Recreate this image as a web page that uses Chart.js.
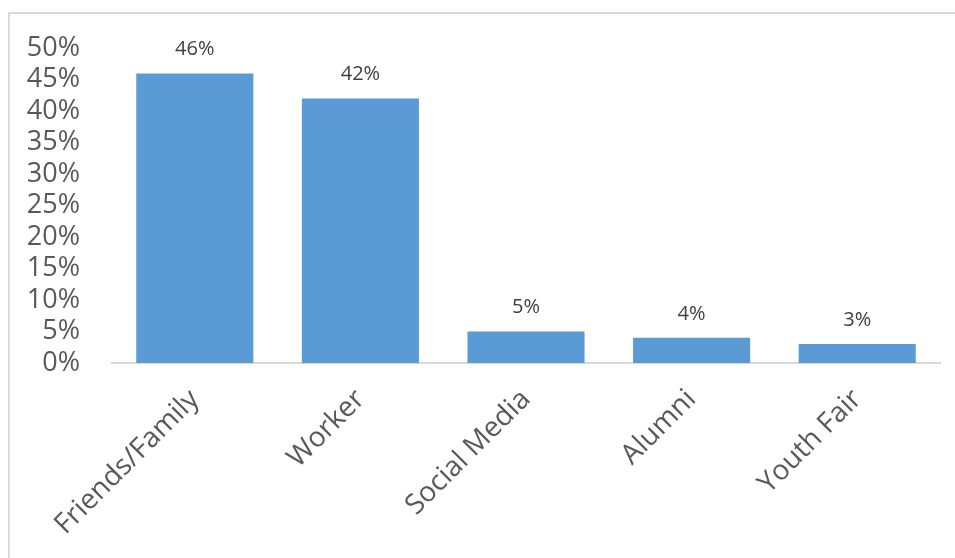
<!DOCTYPE html>
<html>
<head>
<meta charset="utf-8">
<script src="https://cdn.jsdelivr.net/npm/chart.js@4/dist/chart.umd.min.js"></script>
<style>
  html, body { margin: 0; padding: 0; background: #fff; overflow: hidden; }
  #wrap { position: relative; width: 955px; height: 558px; }
  #frame {
    position: absolute; left: 8px; top: 12px; width: 2000px; height: 2000px;
    border-left: 2px solid #d9d9d9; border-top: 2px solid #d9d9d9;
  }
  canvas { position: absolute; left: 0; top: 0; }
</style>
</head>
<body>
<div id="wrap">
  <div id="frame"></div>
  <canvas id="chart" width="955" height="558"></canvas>
</div>
<script>
  // Where respondents heard about the program (share of responses, %)
  const sources = ['Friends/Family', 'Worker', 'Social Media', 'Alumni', 'Youth Fair'];
  const shares = [46, 42, 5, 4, 3];
  const yTicks = [0, 5, 10, 15, 20, 25, 30, 35, 40, 45, 50];

  const FONT = '"Open Sans", "Liberation Sans", sans-serif';
  const TEXT = '#595959';

  // Value labels above each bar
  const barLabels = {
    id: 'barLabels',
    afterDatasetsDraw(chart) {
      const ctx = chart.ctx;
      const meta = chart.getDatasetMeta(0);
      ctx.save();
      ctx.font = '20px ' + FONT;
      ctx.fillStyle = '#404040';
      ctx.textAlign = 'center';
      ctx.textBaseline = 'bottom';
      meta.data.forEach((bar, i) => {
        ctx.fillText(shares[i] + '%', bar.x, bar.y - 14);
      });
      ctx.restore();
    }
  };

  new Chart(document.getElementById('chart').getContext('2d'), {
    type: 'bar',
    data: {
      labels: sources,
      datasets: [{
        data: shares,
        backgroundColor: '#5b9bd5',
        borderWidth: 0,
        categoryPercentage: 1,
        barPercentage: 0.707,
      }],
    },
    options: {
      responsive: false,
      animation: false,
      layout: { padding: { top: 46, right: 15, left: 0, bottom: 0 } },
      plugins: { legend: { display: false }, tooltip: { enabled: false } },
      scales: {
        y: {
          min: 0,
          max: 50,
          afterBuildTicks: scale => { scale.ticks = yTicks.map(v => ({ value: v })); },
          afterFit: scale => { scale.width = 112; },
          grid: { display: false, drawTicks: false },
          border: { display: false },
          ticks: {
            autoSkip: false,
            padding: 32,
            color: TEXT,
            font: { family: FONT, size: 27 },
            callback: v => v + '%',
          },
        },
        x: {
          afterFit: scale => { scale.height = 195; },
          grid: { display: false, drawTicks: false },
          border: { display: true, color: '#d9d9d9', width: 2 },
          ticks: {
            autoSkip: false,
            padding: 20,
            minRotation: 45,
            maxRotation: 45,
            color: TEXT,
            font: { family: FONT, size: 28 },
          },
        },
      },
    },
    plugins: [barLabels],
  });
</script>
</body>
</html>
